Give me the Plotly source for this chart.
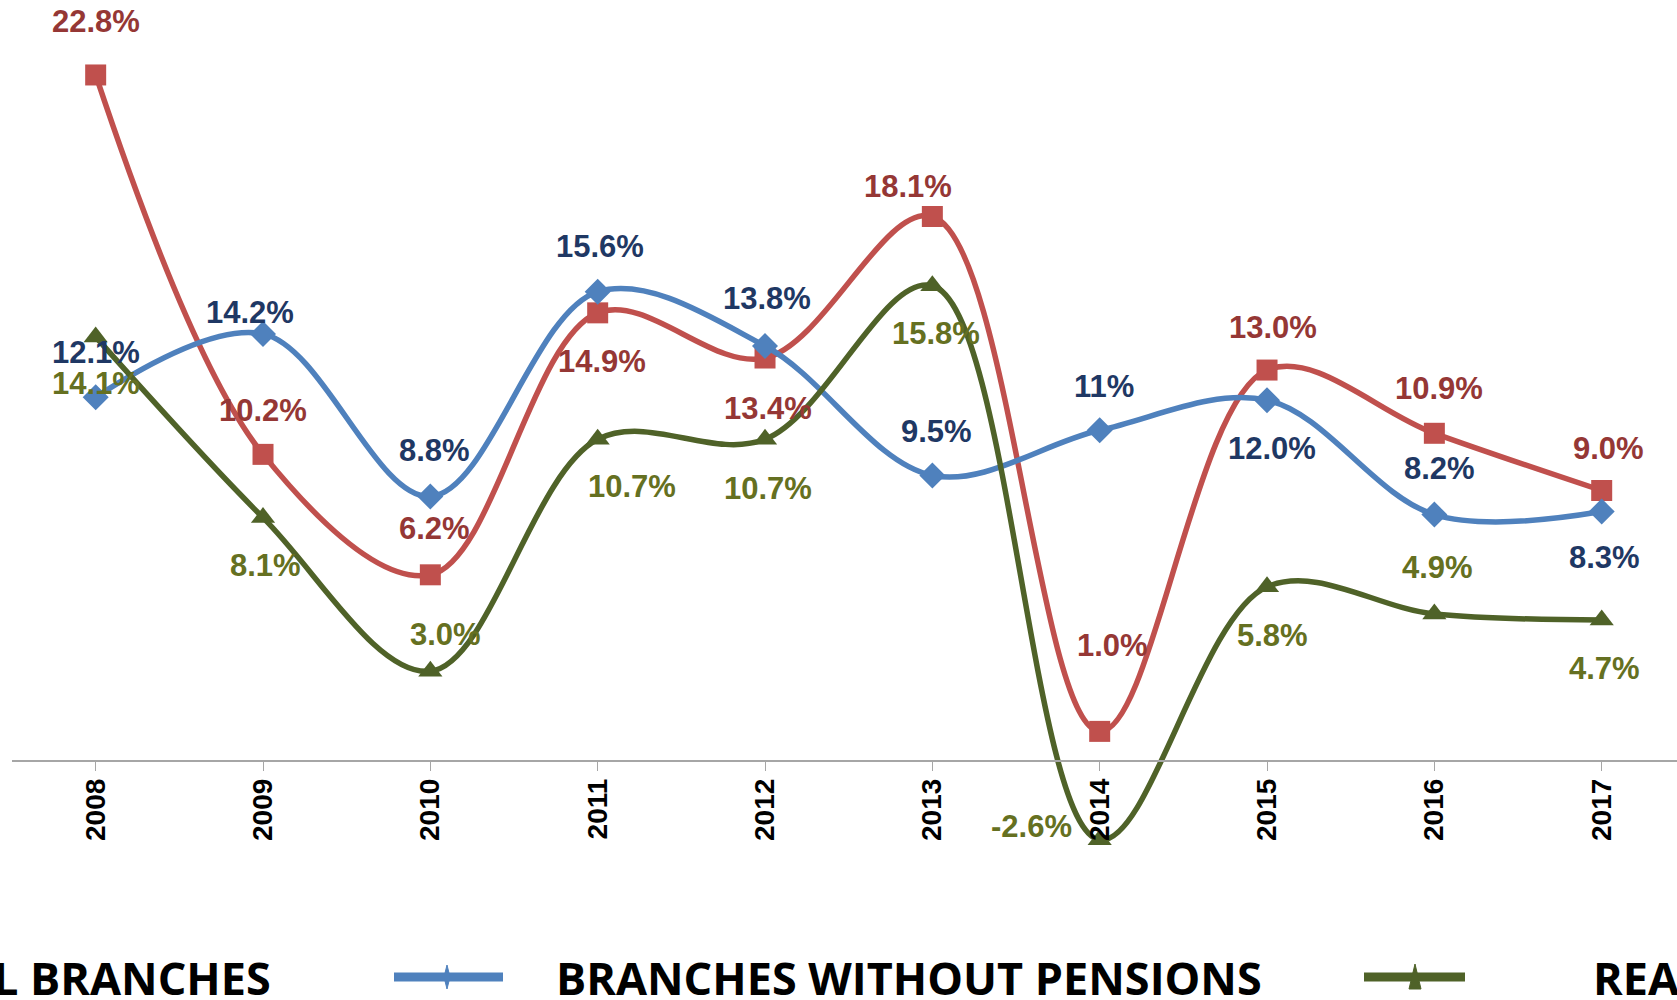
import plotly.graph_objects as go

years = ["2008", "2009", "2010", "2011", "2012", "2013", "2014", "2015", "2016", "2017"]
total_branches = [22.8, 10.2, 6.2, 14.9, 13.4, 18.1, 1.0, 13.0, 10.9, 9.0]
without_pensions = [12.1, 14.2, 8.8, 15.6, 13.8, 9.5, 11.0, 12.0, 8.2, 8.3]
real_growth = [14.1, 8.1, 3.0, 10.7, 10.7, 15.8, -2.6, 5.8, 4.9, 4.7]
without_pensions_labels = ["12.1%", "14.2%", "8.8%", "15.6%", "13.8%", "9.5%", "11%", "12.0%", "8.2%", "8.3%"]

W, H = 1677, 1000
ML, MT, MB = 12, 0, 100
PW, PH = W - ML, H - MT - MB
Y_TOP, Y_BOT = 25.29, -4.60

# label offsets (pixels) per series
red_off = [(0, 53), (0, 44), (4, 46), (4, -49), (3, -50), (-24, 30), (13, 86), (6, 43), (5, 45), (7, 42)]
blue_off = [(0, 45), (-13, 21), (4, 46), (2, 45), (2, 47), (4, 44), (4, 44), (5, -48), (5, 46), (3, -46)]
green_off = [(0, -47), (2, -48), (15, 37), (34, -47), (3, -49), (4, -48), (-68, 13), (5, -49), (3, 46), (3, -49)]

RED, BLUE, GREEN = "#C0504D", "#4F81BD", "#4F6228"
RED_T, BLUE_T, GREEN_T = "#953735", "#1F3864", "#657021"

fig = go.Figure()
xs = list(range(len(years)))
fig.add_trace(go.Scatter(x=xs, y=total_branches, name="TOTAL BRANCHES", mode="lines+markers",
                         line=dict(color=RED, width=5.5, shape="spline", smoothing=1.0),
                         marker=dict(symbol="square", size=21, color=RED)))
fig.add_trace(go.Scatter(x=xs, y=without_pensions, name="BRANCHES WITHOUT PENSIONS", mode="lines+markers",
                         line=dict(color=BLUE, width=5.5, shape="spline", smoothing=1.0),
                         marker=dict(symbol="diamond", size=20, color=BLUE)))
fig.add_trace(go.Scatter(x=xs, y=real_growth, name="REAL GROWTH", mode="lines+markers",
                         line=dict(color=GREEN, width=5.5, shape="spline", smoothing=1.0),
                         marker=dict(symbol="triangle-up", size=21, color=GREEN)))

lab_font = "Liberation Sans, Arial, sans-serif"
anns = []
def add_labels(vals, texts, offs, color):
    for i, (v, t, (dx, dy)) in enumerate(zip(vals, texts, offs)):
        anns.append(dict(x=i, y=v, xref="x", yref="y", text=t, showarrow=False,
                         xshift=dx, yshift=dy, font=dict(family=lab_font, size=31, color=color, weight="bold")))

add_labels(total_branches, [f"{v:.1f}%" for v in total_branches], red_off, RED_T)
add_labels(without_pensions, without_pensions_labels, blue_off, BLUE_T)
add_labels(real_growth, [f"{v:.1f}%" for v in real_growth], green_off, GREEN_T)

def px(xp):
    return (xp - ML) / PW
def py(yp):
    return (MT + PH - yp) / PH

leg_font = dict(family="Open Sans, sans-serif", size=45, color="black", weight="bold")
LY = 977
anns.append(dict(x=px(273), y=py(LY), xref="paper", yref="paper", text="TOTAL BRANCHES",
                 xanchor="right", yanchor="middle", showarrow=False, font=leg_font))
anns.append(dict(x=px(554), y=py(LY), xref="paper", yref="paper", text="BRANCHES WITHOUT PENSIONS",
                 xanchor="left", yanchor="middle", showarrow=False, font=leg_font))
anns.append(dict(x=px(1591), y=py(LY), xref="paper", yref="paper", text="REAL GROWTH",
                 xanchor="left", yanchor="middle", showarrow=False, font=leg_font))

shapes = []
shapes.append(dict(type="line", xref="paper", yref="paper", x0=px(394), x1=px(503), y0=py(LY), y1=py(LY),
                   line=dict(color=BLUE, width=9)))
shapes.append(dict(type="path", xref="paper", yref="paper",
                   path=f"M {px(447)} {py(LY-12)} L {px(450)} {py(LY)} L {px(447)} {py(LY+12)} L {px(444)} {py(LY)} Z",
                   fillcolor=BLUE, line=dict(color=BLUE, width=1)))
shapes.append(dict(type="line", xref="paper", yref="paper", x0=px(1364), x1=px(1465), y0=py(LY), y1=py(LY),
                   line=dict(color=GREEN, width=9)))
shapes.append(dict(type="path", xref="paper", yref="paper",
                   path=f"M {px(1415)} {py(LY-13)} L {px(1421)} {py(LY+12)} L {px(1409)} {py(LY+12)} Z",
                   fillcolor=GREEN, line=dict(color=GREEN, width=1)))

axis_pos = (MT + PH - (MT + PH * (Y_TOP / (Y_TOP - Y_BOT)))) / PH

fig.update_layout(
    width=W, height=H, margin=dict(l=ML, r=0, t=MT, b=MB),
    plot_bgcolor="white", paper_bgcolor="white", showlegend=False,
    annotations=anns, shapes=shapes,
    xaxis=dict(range=[-0.5, 9.45], tickmode="array", tickvals=xs, ticktext=years,
               anchor="free", position=axis_pos, showline=True, linecolor="#A6A6A6", linewidth=2,
               ticks="outside", tickson="boundaries", ticklen=9, tickcolor="#A6A6A6", tickwidth=1,
               tickangle=-90, showgrid=False, zeroline=False, ticklabelstandoff=-4,
               tickfont=dict(family=lab_font, size=28, color="black", weight="bold")),
    yaxis=dict(range=[Y_BOT, Y_TOP], visible=False, showgrid=False, zeroline=False),
)

fig.write_html("out.html", config={"displayModeBar": False},
               post_script="document.body.style.margin='0';document.body.style.overflow='hidden';")
